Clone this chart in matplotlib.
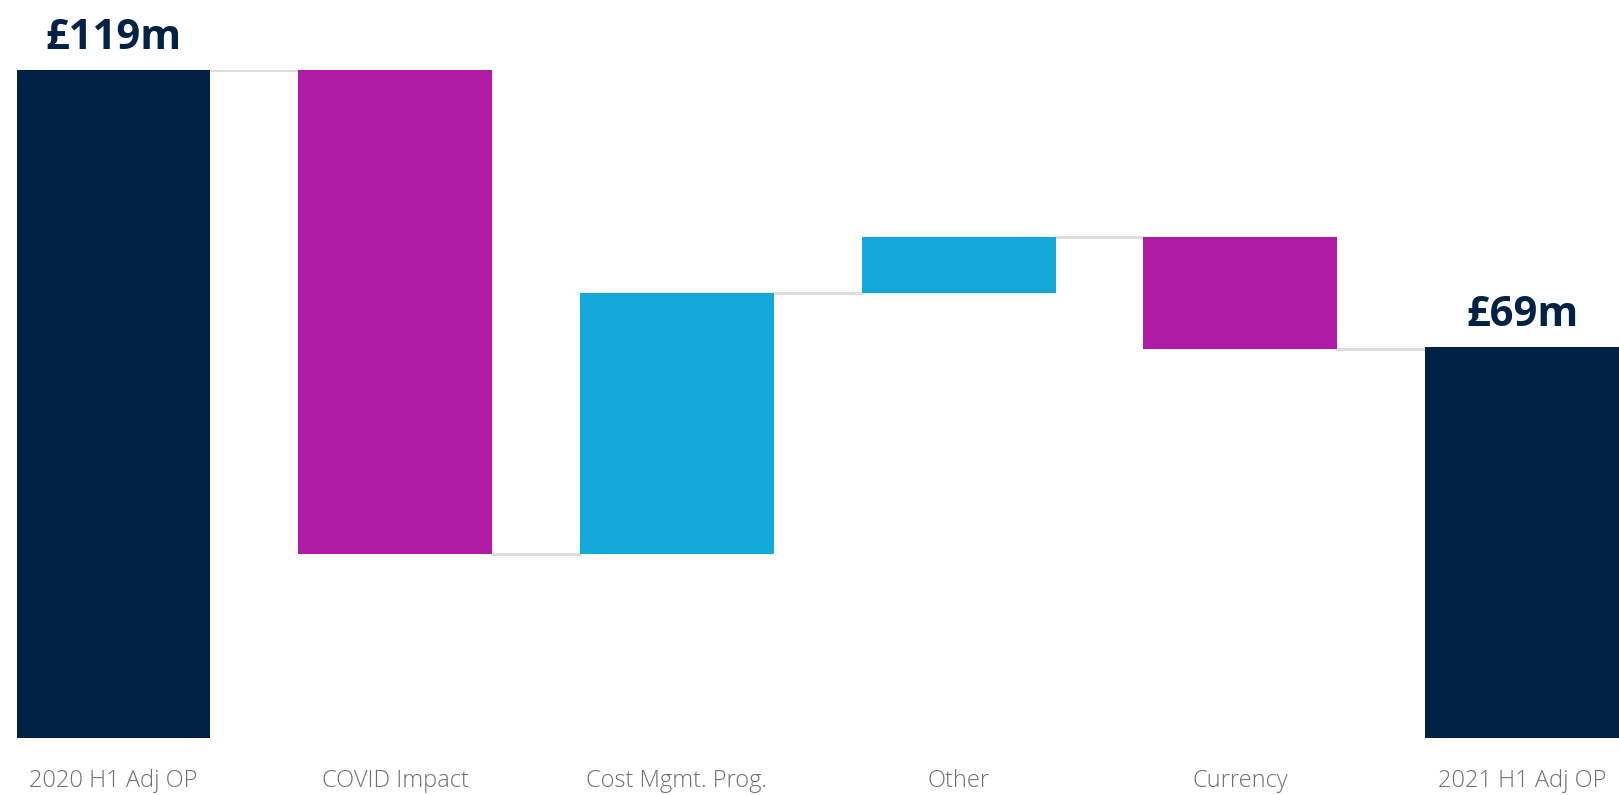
import matplotlib
matplotlib.use("Agg")
import matplotlib.pyplot as plt
from matplotlib import font_manager

# data (GBP m)
categories = ["2020 H1 Adj OP", "COVID Impact", "Cost Mgmt. Prog.", "Other", "Currency", "2021 H1 Adj OP"]
start_value = 119.0
deltas = [-86.3, 46.5, 10.1, -20.0]
end_value = 69.7
total_labels = ["£119m", "£69m"]

navy = "#012245"
magenta = "#B01AA5"
cyan = "#13A8D9"
grey_line = "#dcdcdc"
tick_grey = "#707070"

names = {f.name for f in font_manager.fontManager.ttflist}
label_font = "Open Sans" if "Open Sans" in names else "DejaVu Sans"

fig = plt.figure(figsize=(16.19, 7.95), dpi=100)
ax = fig.add_axes([16.5 / 1619, 57 / 795, 1602.5 / 1619, 668 / 795])

w = 0.688
bottoms, heights, colors = [0], [start_value], [navy]
level = start_value
for d in deltas:
    bottoms.append(min(level, level + d))
    heights.append(abs(d))
    colors.append(cyan if d > 0 else magenta)
    level += d
bottoms.append(0)
heights.append(end_value)
colors.append(navy)

x = list(range(len(categories)))
ax.bar(x, heights, bottom=bottoms, width=w, color=colors, zorder=3)

# connector lines between bars
levels = [start_value]
lv = start_value
for d in deltas:
    lv += d
    levels.append(lv)
levels.append(end_value)
for i in range(len(categories) - 1):
    ax.plot([i + w / 2, i + 1 - w / 2], [levels[i], levels[i]], color=grey_line, lw=2, zorder=2)

# total labels
for i, txt in zip([0, len(categories) - 1], total_labels):
    top = bottoms[i] + heights[i]
    ax.annotate(txt, (i, top), xytext=(0, 8), textcoords="offset points",
                ha="center", va="bottom", fontsize=30, fontweight="bold",
                color=navy, family=label_font, annotation_clip=False)

ax.set_xlim(-0.344, len(categories) - 1 + 0.344)
ax.set_ylim(0, start_value)
ax.set_xticks(x)
ax.set_xticklabels(categories, fontsize=17, color=tick_grey, family=label_font, fontweight="light")
ax.tick_params(axis="x", length=0, pad=22)
ax.set_yticks([])
for s in ax.spines.values():
    s.set_visible(False)

fig.savefig("out.png", dpi=100, facecolor="white")
